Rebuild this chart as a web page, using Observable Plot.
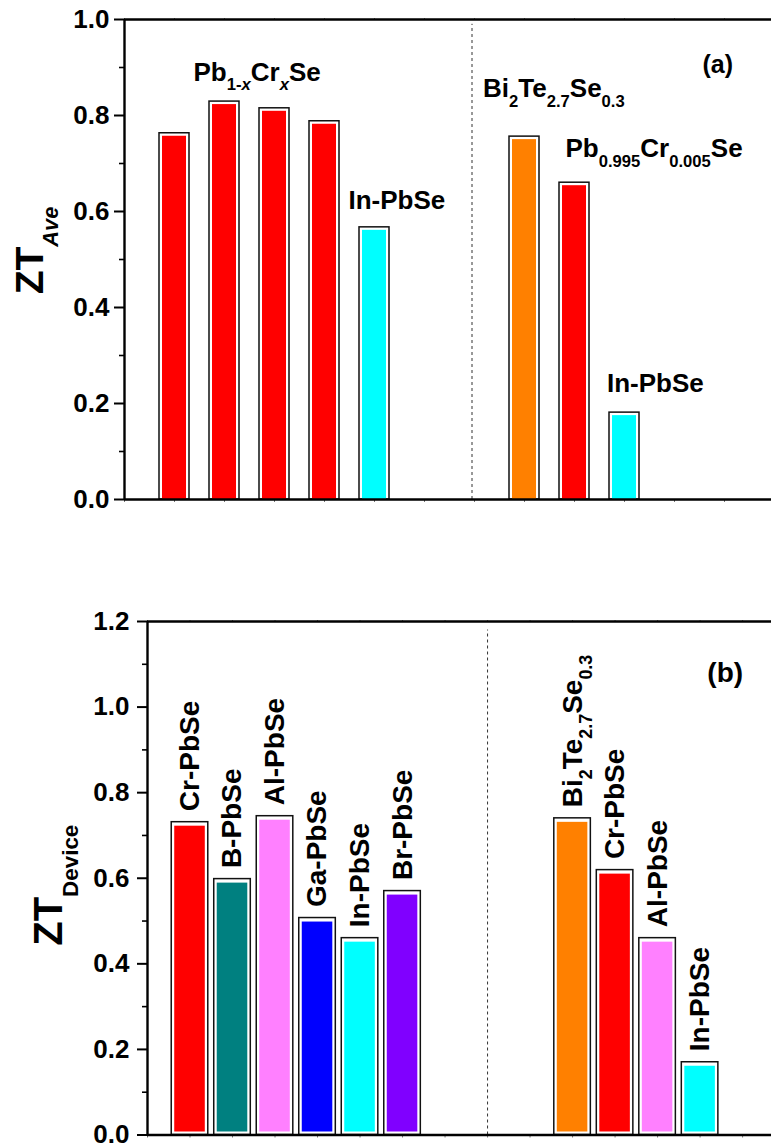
<!DOCTYPE html>
<html><head><meta charset="utf-8">
<script src="https://cdn.jsdelivr.net/npm/d3@7"></script>
<script src="https://cdn.jsdelivr.net/npm/@observablehq/plot@0.6"></script>
<style>body{margin:0;background:#fff}svg{display:block}</style>
</head><body><div id="chart"></div>
<script>
const FONT = "'Liberation Sans', Arial, Helvetica, sans-serif";

// ---------- Panel (a): ZT_Ave ----------
const posA = [1, 2, 3, 4, 5, 8, 9, 10];
const valA = [0.763, 0.829, 0.815, 0.788, 0.567, 0.756, 0.660, 0.181];
const colA = ["#FF0000", "#FF0000", "#FF0000", "#FF0000", "#00FFFF", "#FF8000", "#FF0000", "#00FFFF"];
const annTextA = ["Pb_{1-*x*}Cr_{*x*}Se", "In-PbSe", "Bi_{2}Te_{2.7}Se_{0.3}", "Pb_{0.995}Cr_{0.005}Se", "In-PbSe"];
const annXA = [1.38, 4.48, 7.17, 8.82, 9.65];
const annYA = [0.890, 0.6235, 0.855, 0.730, 0.241];
const sepA = [6.95];
const yTicksA = [0, 0.2, 0.4, 0.6, 0.8, 1.0];
const yMinorA = [0.1, 0.3, 0.5, 0.7, 0.9];
const yMaxA = 1.0;
const xMaxA = 12.94;

// ---------- Panel (b): ZT_Device ----------
const labelsB = ["Cr-PbSe", "B-PbSe", "Al-PbSe", "Ga-PbSe", "In-PbSe", "Br-PbSe",
                 "Bi_{2}Te_{2.7}Se_{0.3}", "Cr-PbSe", "Al-PbSe", "In-PbSe"];
const posB = [1, 2, 3, 4, 5, 6, 10, 11, 12, 13];
const valB = [0.731, 0.598, 0.745, 0.507, 0.460, 0.570, 0.740, 0.619, 0.460, 0.170];
const colB = ["#FF0000", "#008080", "#FF80FF", "#0000FF", "#00FFFF", "#8000FF",
              "#FF8000", "#FF0000", "#FF80FF", "#00FFFF"];
const sepB = [8];
const yTicksB = [0, 0.2, 0.4, 0.6, 0.8, 1.0, 1.2];
const yMinorB = [0.1, 0.3, 0.5, 0.7, 0.9, 1.1];
const yMaxB = 1.2;
const xMaxB = 14.68;

const barsA = posA.map((p, i) => ({pos: p, v: valA[i], c: colA[i]}));
const annA = annTextA.map((t, i) => ({t, x: annXA[i], y: annYA[i]}));
const barsB = posB.map((p, i) => ({pos: p, v: valB[i], c: colB[i], label: labelsB[i]}));

const style = {fontFamily: FONT, fontWeight: "bold", background: "white", color: "black", overflow: "visible"};

function frameMarks(yTicks, yMinor, yMax, xMax, sep, sepTop, pad) {
  const xt = d3.range(0, Math.floor(xMax) + 1);
  return [
    Plot.axisY({ticks: yTicks, tickSize: 10, tickFormat: () => "", strokeWidth: 2, label: null}),
    Plot.axisY({ticks: yMinor, tickSize: 5, tickFormat: () => "", strokeWidth: 1.6, label: null}),
    Plot.text(yTicks, {x: () => 0, y: d => d, text: d => d.toFixed(1), textAnchor: "end", dx: -(10 + pad), fontSize: 26, fontWeight: "bold", fill: "black"}),
    Plot.axisX({ticks: xt, tickSize: 3, tickFormat: () => "", stroke: "#777", label: null}),
    Plot.axisX({anchor: "top", ticks: xt, tickSize: 2, tickFormat: () => "", stroke: "#777", label: null}),
    Plot.ruleX(sep, {y1: () => 0, y2: () => sepTop, stroke: "#333", strokeWidth: 1, strokeDasharray: "3,3"}),
    Plot.ruleY([0, yMax], {stroke: "black", strokeWidth: 2.4}),
    Plot.ruleX([0], {stroke: "black", strokeWidth: 2.4})
  ];
}

const plotA = Plot.plot({
  width: 771, height: 560,
  marginLeft: 124, marginRight: 0, marginTop: 19, marginBottom: 61,
  x: {domain: [0, xMaxA], axis: null},
  y: {domain: [0, yMaxA], axis: null},
  color: {type: "identity"},
  style,
  marks: [
    Plot.rectY(barsA, {x1: d => d.pos - 0.3, x2: d => d.pos + 0.3, y1: () => 0, y2: "v", fill: "white", stroke: "#111", strokeWidth: 1.5}),
    Plot.rectY(barsA, {x1: d => d.pos - 0.3, x2: d => d.pos + 0.3, y1: () => 0, y2: "v", fill: "c", insetLeft: 3, insetRight: 3, insetTop: 3}),
    ...frameMarks(yTicksA, yMinorA, yMaxA, xMaxA, sepA, 0.99, 5),
    Plot.text(annA, {x: "x", y: "y", text: "t", textAnchor: "start", fontSize: 26, fontWeight: "bold", fill: "black"}),
    Plot.text(["(a)"], {x: () => 11.56, y: () => 0.906, text: d => d, textAnchor: "start", fontSize: 25, fontWeight: "bold"}),
    Plot.text(["ZT_{*Ave*}"], {frameAnchor: "left", text: d => d, rotate: -90, textAnchor: "middle", fontSize: 39, fontWeight: "bold", dx: -94, dy: -9})
  ]
});

const plotB = Plot.plot({
  width: 771, height: 585,
  marginLeft: 147, marginRight: 0, marginTop: 61, marginBottom: 10.5,
  x: {domain: [0, xMaxB], axis: null},
  y: {domain: [0, yMaxB], axis: null},
  color: {type: "identity"},
  style,
  marks: [
    Plot.rectY(barsB, {x1: d => d.pos - 0.43, x2: d => d.pos + 0.43, y1: () => 0, y2: "v", fill: "white", stroke: "#111", strokeWidth: 1.5}),
    Plot.rectY(barsB, {x1: d => d.pos - 0.43, x2: d => d.pos + 0.43, y1: () => 0, y2: "v", fill: "c", insetLeft: 3, insetRight: 3, insetTop: 4, insetBottom: 3}),
    ...frameMarks(yTicksB, yMinorB, yMaxB, xMaxB, sepB, 1.18, 8),
    Plot.text(barsB, {x: "pos", y: "v", text: "label", rotate: -90, textAnchor: "start", dy: -11, fontSize: 28, fontWeight: "bold", fill: "black"}),
    Plot.text(["(b)"], {x: () => 13.17, y: () => 1.080, text: d => d, textAnchor: "start", fontSize: 28, fontWeight: "bold"}),
    Plot.text(["ZT_{Device}"], {frameAnchor: "left", text: d => d, rotate: -90, textAnchor: "middle", fontSize: 40, fontWeight: "bold", dx: -98, dy: 7})
  ]
});

const root = document.getElementById("chart");
root.appendChild(plotA);
root.appendChild(plotB);

// Render "_{...}" as subscripts and "*...*" as italics inside text elements
function richText(svg) {
  const ns = "http://www.w3.org/2000/svg";
  svg.querySelectorAll("text").forEach(t => {
    const s = t.textContent;
    if (!s.includes("_{") && !s.includes("*")) return;
    const fs = parseFloat(getComputedStyle(t).fontSize);
    const subFs = fs >= 36 ? fs * 0.56 : fs * 0.64;
    const shift = fs * 0.38;
    const parts = [];
    const re = /_\{([^}]*)\}|([^_]+)/g;
    let m;
    while ((m = re.exec(s))) parts.push(m[1] !== undefined ? {sub: true, s: m[1]} : {sub: false, s: m[2]});
    t.textContent = "";
    let cur = 0;
    for (const p of parts) {
      p.s.split("*").forEach((seg, i) => {
        if (!seg) return;
        const ts = document.createElementNS(ns, "tspan");
        const target = p.sub ? shift : 0;
        if (target !== cur) { ts.setAttribute("dy", target - cur); cur = target; }
        if (p.sub) ts.setAttribute("font-size", subFs);
        if (i % 2 === 1) ts.setAttribute("font-style", "italic");
        ts.textContent = seg;
        t.appendChild(ts);
      });
    }
  });
}
richText(plotA);
richText(plotB);
</script>
</body></html>
